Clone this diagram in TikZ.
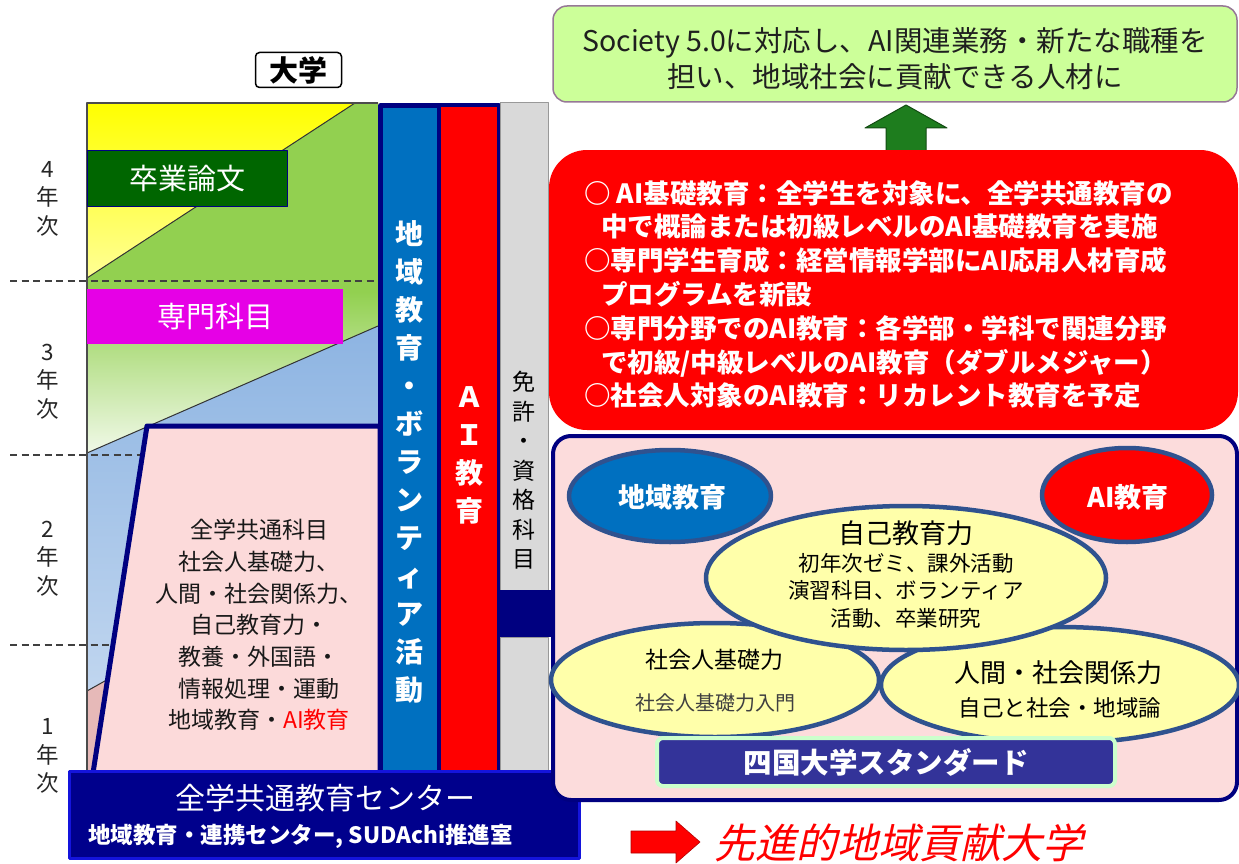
\documentclass[tikz,border=0pt]{standalone}
\usepackage{fontspec}
\setmainfont{Noto Sans CJK JP}
\newfontfamily\jpslant{Noto Sans CJK JP}[FakeSlant=0.22]
\usetikzlibrary{shapes.geometric}
\newcommand{\fsz}[2]{\fontsize{#1}{#2}\selectfont}
\definecolor{navyc}{RGB}{0,0,128}
\definecolor{barblue}{RGB}{0,112,192}
\definecolor{ellb}{RGB}{47,82,143}
\definecolor{lgreen}{RGB}{204,255,153}
\definecolor{goalborder}{RGB}{150,120,150}
\definecolor{gpink}{RGB}{252,220,220}
\definecolor{tpink}{RGB}{252,218,218}
\definecolor{bpink}{RGB}{230,185,184}
\definecolor{lblue}{RGB}{141,180,226}
\definecolor{ggreen}{RGB}{146,208,80}
\definecolor{dgreen}{RGB}{0,102,0}
\definecolor{magc}{RGB}{230,0,230}
\definecolor{eyellow}{RGB}{255,255,170}
\definecolor{pyellow}{RGB}{255,255,160}
\definecolor{stdnavy}{RGB}{51,51,153}
\definecolor{mint}{RGB}{204,255,204}
\definecolor{cnavy}{RGB}{0,0,140}
\definecolor{cblue}{RGB}{20,20,220}
\definecolor{grayc}{RGB}{217,217,217}
\definecolor{agreen}{RGB}{30,125,30}
\tikzset{
  ell/.style={ellipse, draw=ellb, line width=4.5, inner sep=0pt},
  yearlab/.style={align=center, font=\fsz{22.5}{28.5}, text=black!85},
  vbar/.style={align=center, font=\bfseries\fsz{28}{38}, text=white},
  dashline/.style={black!75, line width=1.3, dash pattern=on 7pt off 4.5pt}
}
\begin{document}
\begin{tikzpicture}[x=1pt,y=-1pt,line join=round]
\useasboundingbox (0,0) rectangle (1239,864);
\fill[white] (0,0) rectangle (1239,864);

% ---------- left background bands ----------
\begin{scope}
\clip (87,103) rectangle (378,771);
\shade[top color=yellow, bottom color=pyellow] (87,103) rectangle (378,290);
\fill[ggreen] (87,278) -- (355,103) -- (378,103) -- (378,771) -- (87,771) -- cycle;
\begin{scope}
\clip (87,278) -- (355,103) -- (378,103) -- (378,771) -- (87,771) -- cycle;
\shade[top color=ggreen, bottom color=ggreen!12] (87,292) rectangle (378,455);
\end{scope}
\shade[top color=lblue, bottom color=lblue!45] (87,453) -- (378,326) -- (378,771) -- (87,771) -- cycle;
\fill[bpink] (87,691) -- (378,528) -- (378,771) -- (87,771) -- cycle;
\draw[line width=1, black!80] (87,278) -- (355,103) (87,453) -- (378,326) (87,691) -- (378,528);
\end{scope}
\draw[line width=1.2, black!70] (87,771) -- (87,103) -- (378,103);

\draw[dashline] (10,281) -- (378,281);
\draw[dashline] (10,455) -- (378,455);
\draw[dashline] (10,645) -- (378,645);

\node[yearlab] (y4) at (48,198.5) {4\\年\\次};
\node[yearlab] (y3) at (48,381.5) {3\\年\\次};
\node[yearlab] (y2) at (48,558.5) {2\\年\\次};
\node[yearlab] (y1) at (48,756) {1\\年\\次};

\node[draw=black, line width=1.5, rounded corners=4, fill=white, font=\bfseries\fsz{29}{30}, minimum width=86, minimum height=35, inner sep=0pt] (daigaku) at (298.5,70) {大学};

\node[draw=navyc, line width=1, fill=dgreen, text=white, font=\fsz{29}{30}, minimum width=200, minimum height=56, inner sep=0pt] (sotsu) at (187,178) {卒業論文};
\node[fill=magc, text=white, font=\fsz{29}{30}, minimum width=256, minimum height=55, inner sep=0pt] (senmon) at (215,316.5) {専門科目};

% ---------- trapezoid ----------
\draw[navyc, line width=5, fill=tpink] (147,426) -- (380,426) -- (380,773) -- (93,773) -- cycle;
\node[align=center, font=\fsz{23}{31.7}, text=black!90] (kyotsu) at (259,625) {全学共通科目\\社会人基礎力、\\人間・社会関係力、\\自己教育力・\\教養・外国語・\\情報処理・運動\\地域教育・\textcolor{red}{AI教育}};

% ---------- vertical bars ----------
\draw[navyc, line width=5, fill=barblue] (380.5,105.5) rectangle (439,775);
\draw[navyc, line width=4, fill=red] (439,105.5) rectangle (498.5,775);
\draw[black!40, line width=1, fill=grayc] (500,102.5) rectangle (548,590);
\draw[black!40, line width=1, fill=grayc] (500,637) rectangle (548,775);
\fill[navyc] (498,590) rectangle (555,637);

\node[vbar] (chiiki) at (409,461.5) {地\\域\\教\\育\\・\\ボ\\ラ\\ン\\テ\\ィ\\ア\\活\\動};
\node[vbar] (aiv) at (469,455) {Ａ\\Ｉ\\教\\育};
\node[align=center, font=\fsz{23}{29.5}, text=black] (menkyo) at (524,470.5) {免\\許\\・\\資\\格\\科\\目};

% ---------- centre box ----------
\node[draw=cblue, line width=3, fill=cnavy, minimum width=510, minimum height=87, inner sep=0pt] (center) at (324,815) {};
\node[text=white, font=\fsz{30}{32}] (centerT) at (325,798) {全学共通教育センター};
\node[text=white, font=\bfseries\fsz{22.5}{24}, anchor=west, inner sep=0pt] (centerS) at (88,836) {地域教育・連携センター, SUDAchi推進室};

% ---------- right: goal ----------
\node[draw=goalborder, line width=1.5, fill=lgreen, rounded corners=14, minimum width=684, minimum height=96, inner sep=0pt] (goal) at (895,54) {};
\node[font=\fsz{28.5}{36}, align=center, text=black!88] (goalT) at (895,58.5) {Society 5.0に対応し、AI関連業務・新たな職種を\\担い、地域社会に貢献できる人材に};

\draw[draw=agreen!60!black, line width=1, fill=agreen] (886,152) -- (886,128) -- (865,128) -- (906,105) -- (947,128) -- (926,128) -- (926,152) -- cycle;

% ---------- red box ----------
\node[fill=red, rounded corners=38, minimum width=689, minimum height=280, inner sep=0pt] (aibox) at (893.5,290) {};
\node[text=white, font=\bfseries\fsz{26.5}{33.8}, align=left, anchor=west, inner sep=0pt] (aiT) at (584,294.5) {○ AI基礎教育：全学生を対象に、全学共通教育の\\\hspace*{17pt}中で概論または初級レベルのAI基礎教育を実施\\○専門学生育成：経営情報学部にAI応用人材育成\\\hspace*{17pt}プログラムを新設\\○専門分野でのAI教育：各学部・学科で関連分野\\\hspace*{17pt}で初級/中級レベルのAI教育（ダブルメジャー）\\○社会人対象のAI教育：リカレント教育を予定};

% ---------- pink box ----------
\node[draw=navyc, line width=4, fill=gpink, rounded corners=18, minimum width=684, minimum height=364, inner sep=0pt] (stdbox) at (895,618) {};

\node[ell, fill=barblue, minimum width=202, minimum height=92] (e1) at (670,496) {};
\node[font=\bfseries\fsz{27}{28}, text=white] (e1t) at (672,497) {地域教育};
\node[ell, fill=red, minimum width=170, minimum height=94] (e2) at (1127,495) {};
\node[font=\bfseries\fsz{27}{28}, text=white] (e2t) at (1128,497) {AI教育};

\node[ell, fill=eyellow, minimum width=328, minimum height=114] (e4) at (715,680) {};
\node[ell, fill=eyellow, minimum width=358, minimum height=116] (e5) at (1060,685) {};
\node[ell, fill=eyellow, minimum width=400, minimum height=144] (e3) at (906,578) {};

\node[font=\fsz{27}{28}] (e3a) at (906,533) {自己教育力};
\node[font=\fsz{21.5}{27.5}, align=center] (e3b) at (906,590.5) {初年次ゼミ、課外活動\\演習科目、ボランティア\\活動、卒業研究};
\node[font=\fsz{23}{24}] (e4a) at (714,660) {社会人基礎力};
\node[font=\fsz{20}{22}, text=black!75] (e4b) at (715,703) {社会人基礎力入門};
\node[font=\fsz{26}{28}] (e5a) at (1058,673) {人間・社会関係力};
\node[font=\fsz{22.5}{24}] (e5b) at (1060,708) {自己と社会・地域論};

\node[draw=mint, line width=4, fill=stdnavy, rounded corners=6, minimum width=458, minimum height=48, text=white, font=\bfseries\fsz{28.5}{30}, inner sep=0pt] (std) at (886,762) {四国大学スタンダード};

% ---------- bottom arrow ----------
\draw[fill=red, draw=red!70!black, line width=0.6] (631,831) -- (676,831) -- (676,821) -- (700,842) -- (676,863) -- (676,853) -- (631,853) -- cycle;
\node[font=\jpslant\fsz{41}{42}, text=red, anchor=west, inner sep=0pt] (adv) at (714,843) {先進的地域貢献大学};
\end{tikzpicture}
\end{document}
